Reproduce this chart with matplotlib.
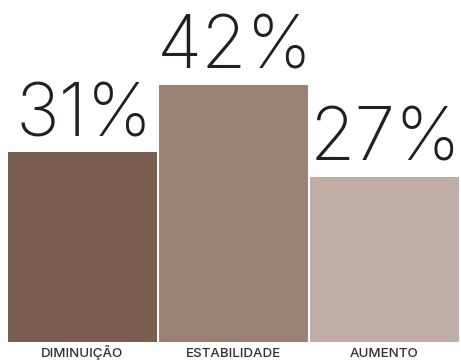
import matplotlib.pyplot as plt

# survey result split
categories = ["DIMINUIÇÃO", "ESTABILIDADE", "AUMENTO"]
shares     = [31, 42, 27]
colors     = ["#7a5f51", "#9c8275", "#bfaea5"]

fig = plt.figure(figsize=(4.61, 3.6), dpi=100)
ax = fig.add_axes([0, 0, 1, 1])

x = range(len(categories))
bars = ax.bar(x, shares, width=0.987, color=colors)

for b, v in zip(bars, shares):
    ax.annotate(f"{v}%", (b.get_x() + b.get_width() / 2, v),
                xytext=(1, 11.5), textcoords="offset points",
                ha="center", va="baseline", fontsize=53,
                family="Inter", fontweight="light", color="#231f20")

# category names sit on the bottom edge
for i, c in zip(x, categories):
    ax.text(i, 0.008, c, transform=ax.get_xaxis_transform(),
            ha="center", va="baseline", fontsize=9.6,
            family="Inter", fontweight="medium", color="#2e2e2e")

ax.set_xlim(-0.546, 2.507)
ax.set_ylim(-2.94, 55.8)
ax.axis("off")

fig.savefig("out.png", dpi=100)
